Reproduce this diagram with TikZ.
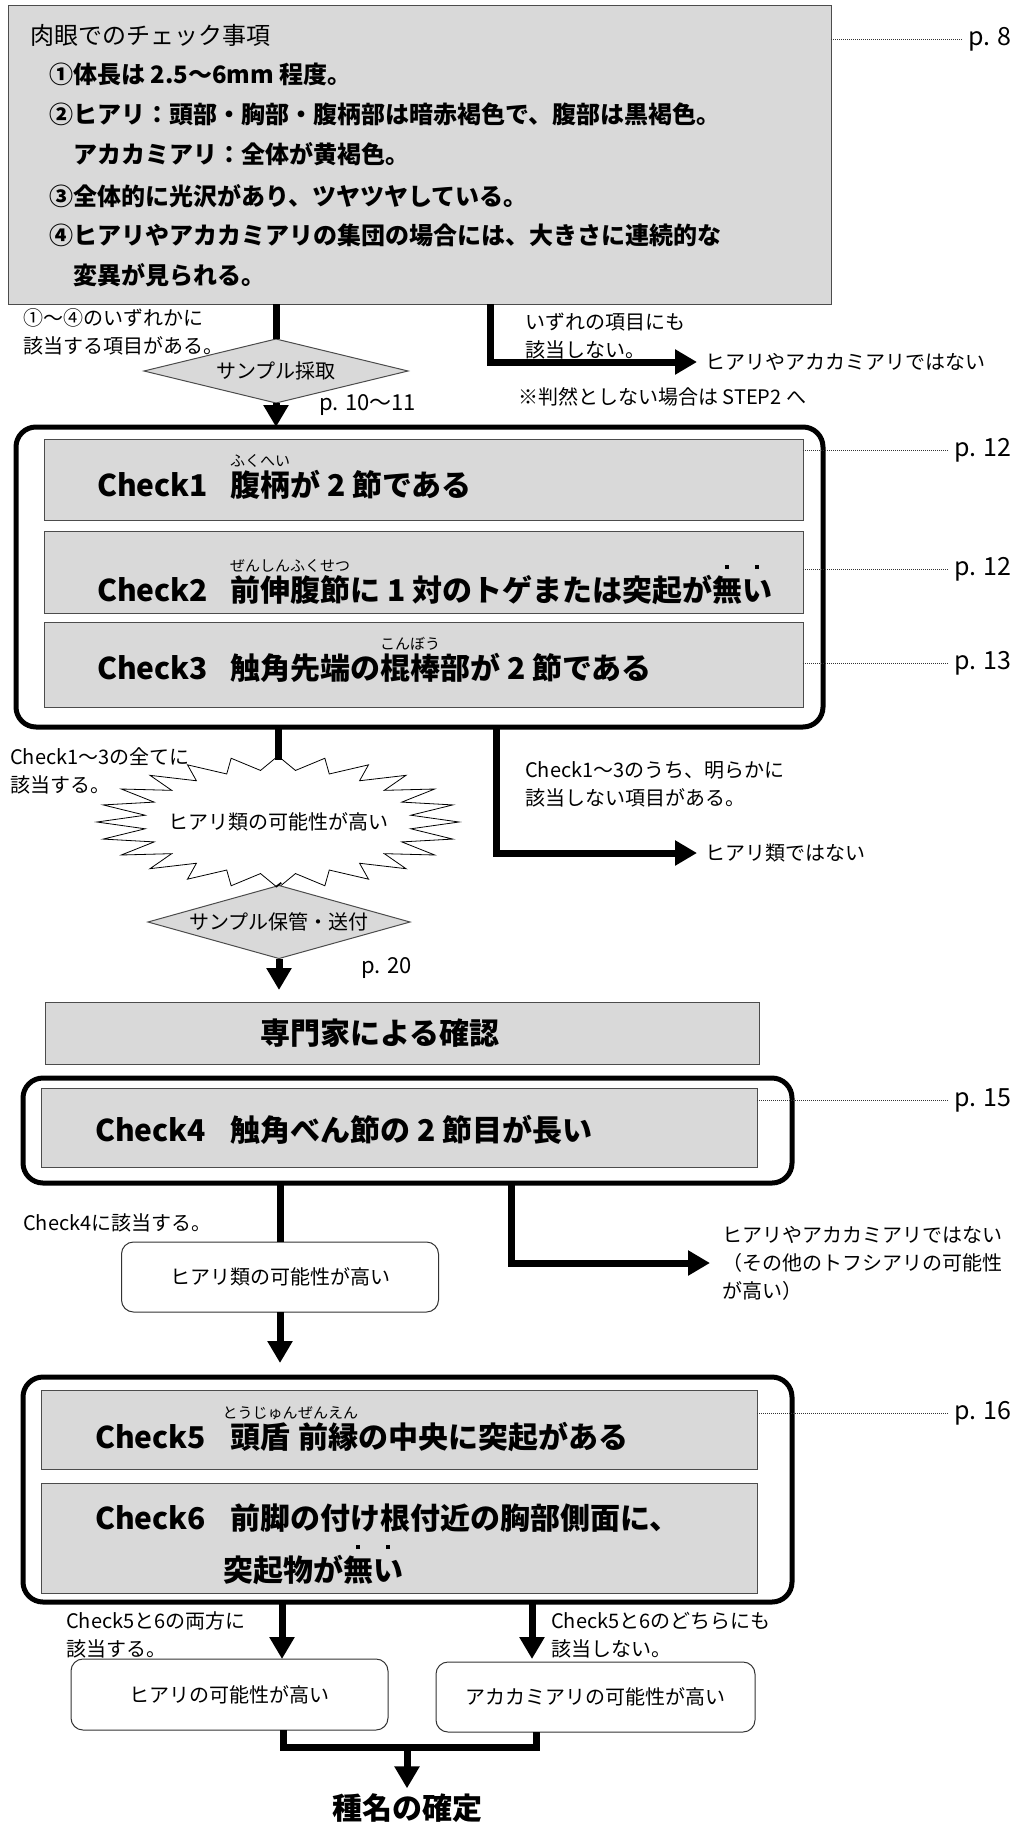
\documentclass[tikz,border=0pt]{standalone}
\usepackage{fontspec}
\setmainfont{Noto Sans CJK JP}
\usetikzlibrary{arrows.meta,calc}
\newcommand\fs[2]{\fontsize{#1}{#2}\selectfont}
\newcommand\rb[2]{\leavevmode\hbox{\ooalign{#1\cr\hidewidth\smash{\raisebox{1.0em}{\fs{15}{15}\mdseries #2}}\hidewidth\cr}}}
\newcommand\bt[1]{\leavevmode\hbox{\ooalign{#1\cr\hidewidth\smash{\raisebox{1.08em}{\rule{4pt}{4pt}}}\hidewidth\cr}}}
\begin{document}
\begin{tikzpicture}[x=1pt,y=-1pt,
  graybox/.style={draw=black!70, line width=1pt, fill=gray!30, inner sep=0pt, outer sep=0pt, anchor=north west},
  roundbox/.style={draw=black, line width=5pt, rounded corners=20pt, inner sep=0pt, outer sep=0pt, anchor=north west},
  whitebox/.style={draw=black!80, line width=1pt, rounded corners=12pt, fill=white, inner sep=0pt, outer sep=0pt, font=\fs{20}{24}},
  dpath/.style={draw=black!70, line width=1pt, fill=gray!30},
  dtext/.style={inner sep=0pt, outer sep=0pt, font=\fs{20}{24}},
  thk/.style={line width=7pt},
  arr/.style={line width=7pt, -{Triangle[length=22pt,width=24pt]}},
  dotl/.style={line width=0.8pt, dash pattern=on 0.8pt off 1.2pt, black!80},
  lbl/.style={font=\fs{20}{28}, align=left, inner sep=0pt, anchor=west},
  pg/.style={font=\fs{25}{28}, inner sep=0pt, anchor=west},
  topt/.style={font=\bfseries\fs{24}{28}, inner sep=0pt, anchor=west},
  chk/.style={font=\bfseries\fs{30}{36}, inner sep=0pt, anchor=west},
]
\useasboundingbox[fill=white] (0,0) rectangle (1023,1822);

% ---- top box
\node[graybox, minimum width=823pt, minimum height=298pt] (top) at (8,6) {};
\node[topt, font=\fs{24}{28}] (t0) at (30,35) {肉眼でのチェック事項};
\node[topt] (t1) at (49,74) {①体長は 2.5～6mm 程度。};
\node[topt] (t2) at (49,114) {②ヒアリ：頭部・胸部・腹柄部は暗赤褐色で、腹部は黒褐色。};
\node[topt] (t3) at (73,154) {アカカミアリ：全体が黄褐色。};
\node[topt] (t4) at (49,196) {③全体的に光沢があり、ツヤツヤしている。};
\node[topt] (t5) at (49,235) {④ヒアリやアカカミアリの集団の場合には、大きさに連続的な};
\node[topt] (t6) at (73,275) {変異が見られる。};
\node[pg] (p8) at (968,39) {p. 8};
\draw[dotl] (top.north east |- p8.west) -- ([xshift=-6pt]p8.west);

\coordinate (d1c) at (276,371);
\draw[dpath] ($(d1c)+(-132,0)$) -- ($(d1c)+(0,-32)$) -- ($(d1c)+(132,0)$) -- ($(d1c)+(0,32)$) -- cycle;
\node[dtext, minimum width=264pt, minimum height=64pt] (d1) at (d1c) {サンプル採取};
\coordinate (b1) at (490,0);
\node[lbl] (l1) at (23,332) {①～④のいずれかに\\該当する項目がある。};
\node[lbl] (l2) at (525,336) {いずれの項目にも\\該当しない。};
\node[lbl] (no1) at (705,362) {ヒアリやアカカミアリではない};
\node[lbl] (note1) at (518,397) {※判然としない場合は STEP2 へ};
\node[lbl, font=\fs{22}{26}] (p1011) at (319,405) {p. 10～11};
\draw[thk] (top.south -| d1.north) -- (d1.north);
\draw[arr] (top.south -| b1) |- ([xshift=-8pt]no1.west);

% ---- checks 1-3
\node[roundbox, minimum width=807pt, minimum height=300pt] (ib1) at (16,427) {};
\draw[arr] (d1.south) -- (ib1.north -| d1.south);
\node[graybox, minimum width=759pt, minimum height=81pt] (c1) at (44,439) {};
\node[graybox, minimum width=759pt, minimum height=82pt] (c2) at (44,531) {};
\node[graybox, minimum width=759pt, minimum height=85pt] (c3) at (44,622) {};
\node[chk] (c1a) at (97,485) {Check1};
\node[chk] (c1b) at (230,485) {\rb{腹柄}{ふくへい}が 2 節である};
\node[chk] (c2a) at (97,590) {Check2};
\node[chk] (c2b) at (230,590) {\rb{前伸腹節}{ぜんしんふくせつ}に 1 対のトゲまたは突起が\bt{無}\bt{い}};
\node[chk] (c3a) at (97,668) {Check3};
\node[chk] (c3b) at (230,668) {触角先端の\rb{棍棒}{こんぼう}部が 2 節である};
\node[pg] (p12a) at (954,450) {p. 12};
\node[pg] (p12b) at (954,569) {p. 12};
\node[pg] (p13) at (954,663) {p. 13};
\draw[dotl] (c1.east |- p12a.west) -- ([xshift=-6pt]p12a.west);
\draw[dotl] (c2.east |- p12b.west) -- ([xshift=-6pt]p12b.west);
\draw[dotl] (c3.east |- p13.west) -- ([xshift=-6pt]p13.west);

% ---- burst
\draw[line width=0.8pt, fill=white] plot[samples at={0,...,47}, variable=\k]
  ({278+((mod(\k,2)==0)?181:134)*cos(\k*7.5)}, {822+((mod(\k,2)==0)?66:52)*sin(\k*7.5)}) -- cycle;
\node[inner sep=0pt, minimum width=240pt, minimum height=124pt, font=\fs{20}{24}] (burst) at (278,822) {ヒアリ類の可能性が高い};
\coordinate (b2) at (496,0);
\draw[thk] (ib1.south -| burst.north) -- (burst.north);
\node[lbl] (no2) at (705,853) {ヒアリ類ではない};
\draw[arr] (ib1.south -| b2) |- ([xshift=-8pt]no2.west);
\node[lbl] (l3) at (10,771) {Check1～3の全てに\\該当する。};
\node[lbl] (l4) at (525,784) {Check1～3のうち、明らかに\\該当しない項目がある。};

\coordinate (d2c) at (279,922);
\draw[dpath] ($(d2c)+(-131,0)$) -- ($(d2c)+(0,-36.5)$) -- ($(d2c)+(131,0)$) -- ($(d2c)+(0,36.5)$) -- cycle;
\node[dtext, minimum width=262pt, minimum height=73pt] (d2) at (d2c) {サンプル保管・送付};
\draw[thk] (burst.south) -- (d2.north);
\node[lbl, font=\fs{22}{26}] (p20) at (361,968) {p. 20};
\node[graybox, minimum width=714pt, minimum height=62pt] (exp) at (45,1002) {};
\node[chk, anchor=center] (expt) at (380,1033) {専門家による確認};
\draw[arr, shorten >=12pt] (d2.south) -- (exp.north -| d2.south);

% ---- check 4
\node[roundbox, minimum width=769pt, minimum height=105pt] (ib2) at (23,1078) {};
\node[graybox, minimum width=716pt, minimum height=79pt] (c4) at (41,1088) {};
\node[chk] (c4a) at (95,1130) {Check4};
\node[chk] (c4b) at (230,1130) {触角べん節の 2 節目が長い};
\node[pg] (p15) at (954,1100) {p. 15};
\draw[dotl] (c4.east |- p15.west) -- ([xshift=-6pt]p15.west);

\node[whitebox, minimum width=317pt, minimum height=70pt] (wb1) at (280,1277) {ヒアリ類の可能性が高い};
\node[lbl] (l5) at (23,1223) {Check4に該当する。};
\draw[thk] (ib2.south -| wb1.north) -- (wb1.north);
\coordinate (b3) at (511,0);
\node[lbl] (no3) at (722,1263) {ヒアリやアカカミアリではない\\（その他のトフシアリの可能性\\が高い）};
\draw[arr] (ib2.south -| b3) |- ([xshift=-12pt]no3.west);

% ---- checks 5-6
\node[roundbox, minimum width=769pt, minimum height=225pt] (ib3) at (23,1377) {};
\draw[arr, shorten >=14pt] (wb1.south) -- (ib3.north -| wb1.south);
\node[graybox, minimum width=716pt, minimum height=79pt] (c5) at (41,1390) {};
\node[graybox, minimum width=716pt, minimum height=110pt] (c6) at (41,1483) {};
\node[chk] (c5a) at (95,1437) {Check5};
\node[chk] (c5b) at (230,1437) {\rb{頭盾}{とうじゅん}\hspace{8pt}\rb{前縁}{ぜんえん}の中央に突起がある};
\node[chk] (c6a) at (95,1518) {Check6};
\node[chk] (c6b) at (230,1518) {前脚の付け根付近の胸部側面に、};
\node[chk] (c6c) at (223,1570) {突起物が\bt{無}\bt{い}};
\node[pg] (p16) at (954,1413) {p. 16};
\draw[dotl] (c5.east |- p16.west) -- ([xshift=-6pt]p16.west);

% ---- bottom
\node[whitebox, minimum width=317pt, minimum height=71pt] (wb2) at (229.5,1694.5) {ヒアリの可能性が高い};
\node[whitebox, minimum width=319pt, minimum height=70pt] (wb3) at (595.5,1697) {アカカミアリの可能性が高い};
\coordinate (b4) at (282,0);
\coordinate (b5) at (532,0);
\draw[arr] (ib3.south -| b4) -- (wb2.north -| b4);
\draw[arr, shorten >=3pt] (ib3.south -| b5) -- (wb3.north -| b5);
\node[lbl] (l6) at (66,1635) {Check5と6の両方に\\該当する。};
\node[lbl] (l7) at (551,1635) {Check5と6のどちらにも\\該当しない。};
\coordinate (j) at (407,1747);
\coordinate (b6) at (283,0);
\coordinate (b7) at (536,0);
\draw[thk] (wb2.south -| b6) -- (b6 |- j) -- (b7 |- j) -- (wb3.south -| b7);
\node[chk, anchor=center] (fin) at (407,1808) {種名の確定};
\draw[arr, shorten >=5pt] (j) -- (fin.north);
\end{tikzpicture}
\end{document}
